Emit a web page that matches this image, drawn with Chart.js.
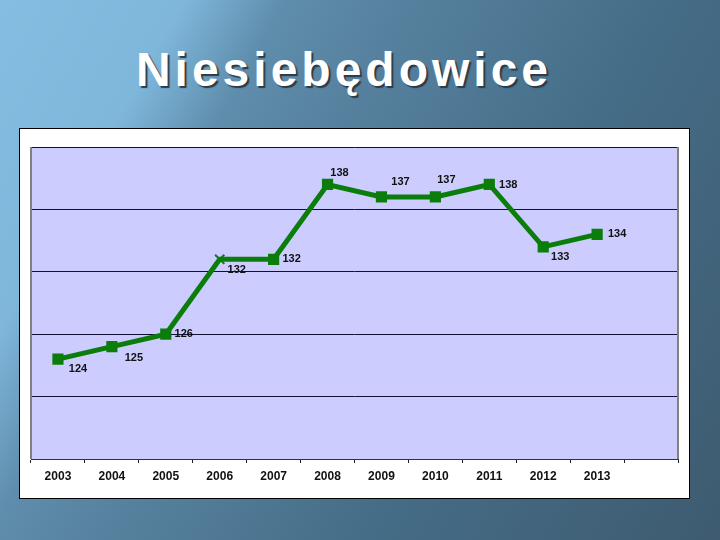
<!DOCTYPE html>
<html>
<head>
<meta charset="utf-8">
<script src="https://cdn.jsdelivr.net/npm/chart.js@4"></script>
<style>
    html, body {
        margin: 0;
        padding: 0;
    }
    body {
        width: 720px;
        height: 540px;
        position: relative;
        overflow: hidden;
        background: linear-gradient(119deg, #84bde1 0%, #7fb7db 18%, #5f8dac 28%, #56819e 40%, #456d87 65%, #3e5b70 100%);
        font-family: 'Liberation Sans', Arial, sans-serif;
    }
    h1 {
        position: absolute;
        left: 0;
        top: 42px;
        width: 688px;
        margin: 0;
        text-align: center;
        color: #ffffff;
        font-size: 48px;
        font-weight: bold;
        letter-spacing: 4px;
        text-shadow: 2px 2px 1px #2a3a48;
    }
    .chart-box {
        position: absolute;
        left: 19px;
        top: 128px;
        width: 669px;
        height: 369px;
        background: #ffffff;
        border: 1px solid #000000;
    }
</style>
</head>
<body>
<h1>Niesiebędowice</h1>
<div class="chart-box">
    <canvas id="populationChart" width="669" height="369"></canvas>
</div>
<script>
// one empty slot at the end, as in the original sheet
const years = ['2003', '2004', '2005', '2006', '2007', '2008', '2009', '2010', '2011', '2012', '2013', ''];
const population = [124, 125, 126, 132, 132, 138, 137, 137, 138, 133, 134];
const pointStyles = ['rect', 'rect', 'rect', 'crossRot', 'rect', 'rect', 'rect', 'rect', 'rect', 'rect', 'rect'];

const yMin = 116;
const yMax = 141;
const yStep = 5;

// where each value label sits next to its point (Excel put them by hand)
const labelOffsets = [[20, 10], [22, 11], [18, 0], [17, 11], [18, 0], [12, -11], [19, -15], [11, -17], [19, 1], [17, 10], [20, 0]];

const plotBackground = {
    id: 'plotBackground',
    beforeDraw(chart) {
        const { ctx, chartArea } = chart;
        ctx.save();
        ctx.fillStyle = '#ccccff';
        ctx.fillRect(chartArea.left, chartArea.top, chartArea.right - chartArea.left, chartArea.bottom - chartArea.top);
        ctx.restore();
    },
    afterDraw(chart) {
        const { ctx, chartArea } = chart;
        ctx.save();
        ctx.strokeStyle = '#808080';
        ctx.lineWidth = 2;
        ctx.beginPath();
        ctx.moveTo(chartArea.left, chartArea.top);
        ctx.lineTo(chartArea.left, chartArea.bottom);
        ctx.moveTo(chartArea.right, chartArea.top);
        ctx.lineTo(chartArea.right, chartArea.bottom);
        ctx.stroke();
        ctx.restore();
    },
};

const valueLabels = {
    id: 'valueLabels',
    afterDatasetsDraw(chart) {
        const { ctx } = chart;
        const meta = chart.getDatasetMeta(0);
        ctx.save();
        ctx.font = "bold 11px 'Liberation Sans', Arial, sans-serif";
        ctx.fillStyle = '#111111';
        ctx.textAlign = 'center';
        ctx.textBaseline = 'middle';
        meta.data.forEach((point, i) => {
            const [dx, dy] = labelOffsets[i] || [18, 0];
            ctx.fillText(String(population[i]), point.x + dx, point.y + dy);
        });
        ctx.restore();
    },
};

const ctx = document.getElementById('populationChart').getContext('2d');

new Chart(ctx, {
    type: 'line',
    data: {
        labels: years,
        datasets: [
            {
                data: population,
                borderColor: '#0b7d0b',
                backgroundColor: '#0b7d0b',
                borderWidth: 5,
                pointStyle: pointStyles,
                pointRadius: 6.5,
                pointBorderWidth: 2,
                pointBorderColor: '#0b7d0b',
                pointBackgroundColor: '#0b7d0b',
                tension: 0,
                fill: false,
            },
        ],
    },
    options: {
        responsive: false,
        animation: false,
        layout: {
            padding: { left: 11, top: 18, right: 11, bottom: 0 },
        },
        plugins: {
            legend: { display: false },
            tooltip: { enabled: false },
        },
        scales: {
            x: {
                offset: true,
                grid: {
                    offset: true,
                    drawOnChartArea: false,
                    drawTicks: true,
                    tickLength: 4,
                    color: '#222222',
                },
                border: {
                    display: true,
                    color: '#333333',
                    width: 1,
                },
                ticks: {
                    color: '#111111',
                    padding: 6,
                    maxRotation: 0,
                    autoSkip: false,
                    font: { family: "'Liberation Sans', Arial, sans-serif", size: 12, weight: 'bold' },
                },
                afterFit(scale) {
                    scale.height = 39;
                },
            },
            y: {
                min: yMin,
                max: yMax,
                ticks: {
                    display: false,
                    stepSize: yStep,
                },
                grid: {
                    color: '#101030',
                    lineWidth: 1,
                    drawTicks: false,
                },
                border: { display: false },
                afterFit(scale) {
                    scale.width = 0;
                },
            },
        },
    },
    plugins: [plotBackground, valueLabels],
});
</script>
</body>
</html>
